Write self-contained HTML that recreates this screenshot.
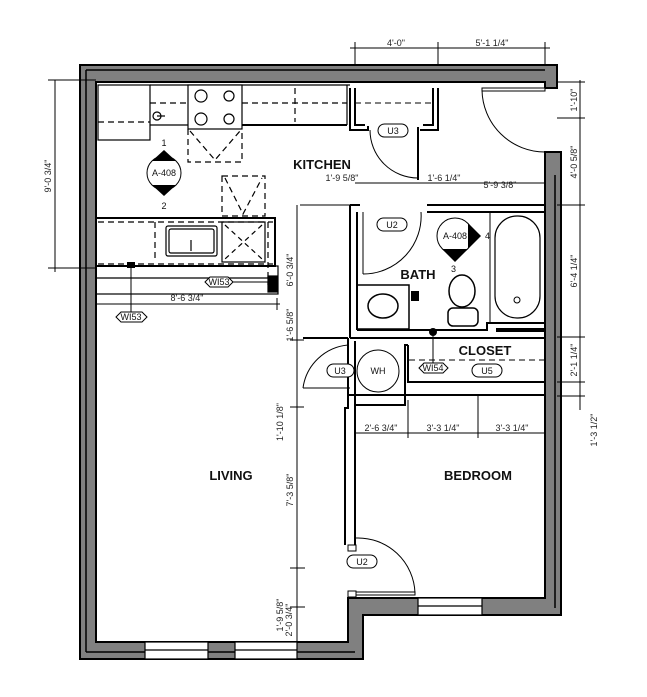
<!DOCTYPE html>
<html><head><meta charset="utf-8"><style>
html,body{margin:0;padding:0;background:#fff;}
svg{display:block;font-family:"Liberation Sans",sans-serif;}
.d{font-size:9px;fill:#222;}
.r{font-size:13px;font-weight:bold;fill:#111;}
.t{font-size:9px;fill:#111;}
</style></head><body>
<svg width="647" height="697" viewBox="0 0 647 697" xmlns="http://www.w3.org/2000/svg">
<!-- exterior walls -->
<path d="M80,65 L557,65 L557,88 L545,88 L545,82 L96,82 L96,642 L348,642 L348,598 L545,598 L545,152 L561,152 L561,615 L363,615 L363,659 L80,659 Z" fill="#808080" stroke="#000" stroke-width="2"/>
<line x1="86" y1="70" x2="545" y2="70" stroke="#000" stroke-width="1.5"/>
<line x1="86" y1="70" x2="86" y2="652" stroke="#000" stroke-width="1.5"/>
<line x1="86" y1="652" x2="355" y2="652" stroke="#000" stroke-width="1.5"/>
<line x1="555" y1="175" x2="555" y2="608" stroke="#000" stroke-width="1.5"/>
<!-- windows -->
<g fill="#fff" stroke="#000" stroke-width="1.2">
<rect x="145" y="642" width="63" height="17"/><line x1="145" y1="650" x2="208" y2="650"/>
<rect x="235" y="642" width="62" height="17"/><line x1="235" y1="650" x2="297" y2="650"/>
<rect x="418" y="598" width="64" height="17"/><line x1="418" y1="606" x2="482" y2="606"/>
</g>
<!-- top dimension -->
<g stroke="#000" stroke-width="1" fill="none">
<line x1="350" y1="48" x2="550" y2="48"/>
<line x1="355" y1="42" x2="355" y2="65"/><line x1="438" y1="42" x2="438" y2="65"/><line x1="545" y1="42" x2="545" y2="65"/>
<!-- left dim -->
<line x1="55" y1="80" x2="55" y2="272"/><line x1="48" y1="80" x2="96" y2="80"/><line x1="48" y1="268" x2="96" y2="268"/>
<!-- right dims -->
<line x1="580" y1="80" x2="580" y2="410"/>
<line x1="557" y1="82" x2="585" y2="82"/><line x1="557" y1="118" x2="585" y2="118"/><line x1="557" y1="205" x2="585" y2="205"/><line x1="557" y1="337" x2="585" y2="337"/><line x1="557" y1="382" x2="585" y2="382"/><line x1="557" y1="396" x2="585" y2="396"/>
</g>
<text class="d" x="396" y="46" text-anchor="middle">4'-0"</text>
<text class="d" x="492" y="46" text-anchor="middle">5'-1 1/4"</text>
<text class="d" transform="translate(51,176) rotate(-90)" text-anchor="middle">9'-0 3/4"</text>
<text class="d" transform="translate(577,100) rotate(-90)" text-anchor="middle">1'-10"</text>
<text class="d" transform="translate(577,162) rotate(-90)" text-anchor="middle">4'-0 5/8"</text>
<text class="d" transform="translate(577,271) rotate(-90)" text-anchor="middle">6'-4 1/4"</text>
<text class="d" transform="translate(577,360) rotate(-90)" text-anchor="middle">2'-1 1/4"</text>
<text class="d" transform="translate(597,430) rotate(-90)" text-anchor="middle">1'-3 1/2"</text>
<!-- exterior door top right -->
<g stroke="#000" fill="none" stroke-width="1">
<rect x="482" y="88" width="63" height="3" fill="#fff"/>
<path d="M482,90 A63,63 0 0 0 545,152"/>
</g>
<!-- kitchen counters -->
<g stroke="#000" fill="none" stroke-width="1.2">
<rect x="98" y="85" width="52" height="55" fill="#fff"/>
<line x1="150" y1="85" x2="350" y2="85"/>
<line x1="150" y1="125" x2="188" y2="125"/>
<line x1="242" y1="125" x2="347" y2="125" stroke-width="2"/>
<line x1="347" y1="85" x2="347" y2="125"/>
<rect x="188" y="85" width="54" height="44" fill="#fff"/>
<circle cx="201" cy="96" r="6"/><circle cx="229" cy="96" r="5"/><circle cx="201" cy="119" r="6"/><circle cx="229" cy="119" r="5"/>
<g stroke-dasharray="6,4">
<line x1="98" y1="122" x2="150" y2="122"/>
<line x1="150" y1="103" x2="188" y2="103"/>
<line x1="242" y1="103" x2="347" y2="103"/>
<line x1="295" y1="88" x2="295" y2="122"/>
<path d="M188,129 L188,162 L242,162 L242,129"/>
<path d="M190,131 L215,160 L240,131"/>
<rect x="222" y="176" width="43" height="40"/>
<path d="M225,178 L243,214 L262,178"/>
<line x1="98" y1="222" x2="273" y2="222"/>
<line x1="155" y1="222" x2="155" y2="262"/>
<line x1="98" y1="264" x2="273" y2="264"/>
<line x1="268" y1="222" x2="268" y2="285"/>
</g>
<circle cx="157" cy="116" r="4"/><line x1="157" y1="116" x2="165" y2="116"/>
<rect x="96" y="218" width="179" height="48" stroke-width="2"/>
<rect x="166" y="226" width="51" height="30" rx="2" fill="#fff"/>
<rect x="169" y="229" width="45" height="24" rx="2"/>
<line x1="191" y1="240" x2="191" y2="251"/>
<rect x="222" y="222" width="43" height="40"/>
<path d="M225,225 L262,259 M262,225 L225,259" stroke-dasharray="5,4"/>
<rect x="96" y="266" width="182" height="28"/>
<rect x="268" y="276" width="9" height="16" fill="#000"/>
<line x1="96" y1="278" x2="268" y2="278"/>
</g>
<rect x="127" y="262" width="8" height="6" fill="#000"/>
<line x1="131" y1="268" x2="131" y2="312" stroke="#000"/>
<line x1="229" y1="282" x2="268" y2="282" stroke="#000"/>
<!-- tags -->
<g stroke="#000" fill="#fff" stroke-width="1">
<path d="M205,282 L210,277 L228,277 L233,282 L228,287 L210,287 Z"/>
<path d="M116,317 L121,312 L142,312 L147,317 L142,322 L121,322 Z"/>
<path d="M419,368 L424,363 L443,363 L448,368 L443,373 L424,373 Z"/>
</g>
<text class="t" x="219" y="285" text-anchor="middle" font-size="8">WI53</text>
<text class="t" x="131" y="320" text-anchor="middle" font-size="8">WI53</text>
<text class="t" x="433" y="371" text-anchor="middle" font-size="8">WI54</text>
<!-- 8'-6 3/4 dim -->
<line x1="96" y1="304" x2="280" y2="304" stroke="#000"/>
<line x1="277" y1="298" x2="277" y2="310" stroke="#000"/>
<text class="d" x="187" y="301" text-anchor="middle">8'-6 3/4"</text>
<!-- A-408 markers -->
<g>
<circle cx="164" cy="173" r="17" fill="#fff" stroke="#000"/>
<path d="M152,161 L164,150 L176,161 Z M152,185 L164,196 L176,185 Z" fill="#000"/>
<text class="t" x="164" y="176" text-anchor="middle">A-408</text>
<text class="t" x="164" y="146" text-anchor="middle" font-size="8">1</text>
<text class="t" x="164" y="209" text-anchor="middle" font-size="8">2</text>
<circle cx="455" cy="236" r="18" fill="#fff" stroke="#000"/>
<path d="M468,223 L481,236 L468,249 Z M442,249 L455,262 L468,249 Z" fill="#000"/>
<text class="t" x="455" y="239" text-anchor="middle">A-408</text>
<text class="t" x="485" y="239" font-size="8">4</text>
<text class="t" x="451" y="272" font-size="8">3</text>
</g>
<text class="r" x="322" y="169" text-anchor="middle">KITCHEN</text>
<text class="r" x="418" y="279" text-anchor="middle">BATH</text>
<text class="r" x="485" y="355" text-anchor="middle">CLOSET</text>
<text class="r" x="231" y="480" text-anchor="middle">LIVING</text>
<text class="r" x="478" y="480" text-anchor="middle">BEDROOM</text>
<!-- pantry U3 -->
<g stroke="#000" fill="none" stroke-width="2">
<path d="M350,88 L350,130 L368,130 L368,126"/>
<path d="M355,88 L355,125 L365,125"/>
<path d="M438,88 L438,130 L420,130"/>
<path d="M433,88 L433,125 L423,125"/>
<line x1="418" y1="127" x2="418" y2="180" stroke-width="2"/>
</g>
<line x1="355" y1="103" x2="433" y2="103" stroke="#000" stroke-dasharray="6,4"/>
<path d="M370,130 A48,48 0 0 0 418,178" fill="none" stroke="#000"/>
<!-- bath walls -->
<g stroke="#000" fill="none" stroke-width="2">
<path d="M350,205 L350,338 M350,205 L360,205"/>
<path d="M357,212 L357,330"/>
<path d="M427,205 L545,205 M427,212 L545,212"/>
<path d="M357,330 L487,330 L487,323 L545,323"/>
<path d="M350,338 L545,338"/>
<line x1="496" y1="330" x2="545" y2="330" stroke-width="4"/>
<line x1="490" y1="212" x2="490" y2="322" stroke-width="1"/>
<rect x="495" y="216" width="45" height="102" rx="22" stroke-width="1.2"/>
</g>
<circle cx="517" cy="300" r="3" fill="none" stroke="#000"/>
<!-- bath door -->
<line x1="363" y1="212" x2="363" y2="274" stroke="#000"/>
<path d="M363,274 A58,58 0 0 0 421,212" fill="none" stroke="#000"/>
<rect x="377" y="218" width="30" height="13" rx="6.5" fill="#fff" stroke="#000"/>
<text class="t" x="392" y="228" text-anchor="middle">U2</text>
<!-- vanity and toilet -->
<g stroke="#000" fill="none" stroke-width="1.5">
<rect x="357" y="285" width="52" height="44"/>
<ellipse cx="383" cy="306" rx="15" ry="12"/>
<ellipse cx="462" cy="291" rx="13" ry="16"/>
<rect x="448" y="308" width="30" height="18" rx="5"/>
</g>
<rect x="411" y="291" width="8" height="10" fill="#000"/>
<circle cx="433" cy="332" r="4" fill="#000"/>
<line x1="433" y1="332" x2="433" y2="363" stroke="#000"/>
<!-- closet and WH -->
<g stroke="#000" fill="none" stroke-width="2">
<path d="M348,338 L348,408 L345,408 L345,545"/>
<path d="M355,341 L355,405 L405,405 L405,345 L408,345"/>
<path d="M408,345 L408,382 L545,382"/>
<path d="M348,395 L545,395"/>
<path d="M355,405 L355,545"/>
<path d="M303,338 L348,338"/>
</g>
<line x1="409" y1="360" x2="545" y2="360" stroke="#000" stroke-dasharray="6,4"/>
<circle cx="378" cy="371" r="21" fill="#fff" stroke="#000"/>
<text class="t" x="378" y="374" text-anchor="middle">WH</text>
<path d="M303,388 A50,50 0 0 1 348,345" fill="none" stroke="#000"/>
<line x1="303" y1="388" x2="350" y2="388" stroke="#000"/>
<rect x="327" y="364" width="27" height="13" rx="6.5" fill="#fff" stroke="#000"/>
<text class="t" x="340" y="374" text-anchor="middle">U3</text>
<rect x="472" y="364" width="30" height="13" rx="6.5" fill="#fff" stroke="#000"/>
<text class="t" x="487" y="374" text-anchor="middle">U5</text>
<rect x="378" y="124" width="30" height="13" rx="6.5" fill="#fff" stroke="#000"/>
<text class="t" x="393" y="134" text-anchor="middle">U3</text>
<!-- bedroom door -->
<rect x="348" y="545" width="8" height="6" fill="#fff" stroke="#000"/>
<rect x="348" y="591" width="8" height="6" fill="#fff" stroke="#000"/>
<rect x="356" y="592" width="59" height="3" fill="#fff" stroke="#000"/>
<path d="M356,538 A57,57 0 0 1 415,593" fill="none" stroke="#000"/>
<rect x="347" y="555" width="30" height="13" rx="6.5" fill="#fff" stroke="#000"/>
<text class="t" x="362" y="565" text-anchor="middle">U2</text>
<!-- interior dimensions -->
<g stroke="#000" stroke-width="1">
<line x1="297" y1="205" x2="297" y2="658"/>
<line x1="300" y1="205" x2="350" y2="205"/>
<line x1="355" y1="183" x2="418" y2="183"/>
<line x1="418" y1="183" x2="545" y2="183"/>
<line x1="355" y1="433" x2="545" y2="433"/>
<line x1="355" y1="418" x2="355" y2="440"/>
<line x1="408" y1="400" x2="408" y2="438"/>
<line x1="478" y1="395" x2="478" y2="438"/>
<line x1="290" y1="340" x2="304" y2="340"/>
<line x1="290" y1="407" x2="304" y2="407"/>
<line x1="290" y1="568" x2="305" y2="568"/>
<line x1="290" y1="607" x2="305" y2="607"/>
</g>
<text class="d" x="342" y="181" text-anchor="middle">1'-9 5/8"</text>
<text class="d" x="444" y="181" text-anchor="middle">1'-6 1/4"</text>
<text class="d" x="500" y="188" text-anchor="middle">5'-9 3/8"</text>
<text class="d" x="381" y="431" text-anchor="middle">2'-6 3/4"</text>
<text class="d" x="443" y="431" text-anchor="middle">3'-3 1/4"</text>
<text class="d" x="512" y="431" text-anchor="middle">3'-3 1/4"</text>
<text class="d" transform="translate(293,270) rotate(-90)" text-anchor="middle">6'-0 3/4"</text>
<text class="d" transform="translate(293,325) rotate(-90)" text-anchor="middle">1'-6 5/8"</text>
<text class="d" transform="translate(283,422) rotate(-90)" text-anchor="middle">1'-10 1/8"</text>
<text class="d" transform="translate(293,490) rotate(-90)" text-anchor="middle">7'-3 5/8"</text>
<text class="d" transform="translate(283,615) rotate(-90)" text-anchor="middle">1'-9 5/8"</text>
<text class="d" transform="translate(292,620) rotate(-90)" text-anchor="middle">2'-0 3/4"</text>
</svg>
</body></html>
